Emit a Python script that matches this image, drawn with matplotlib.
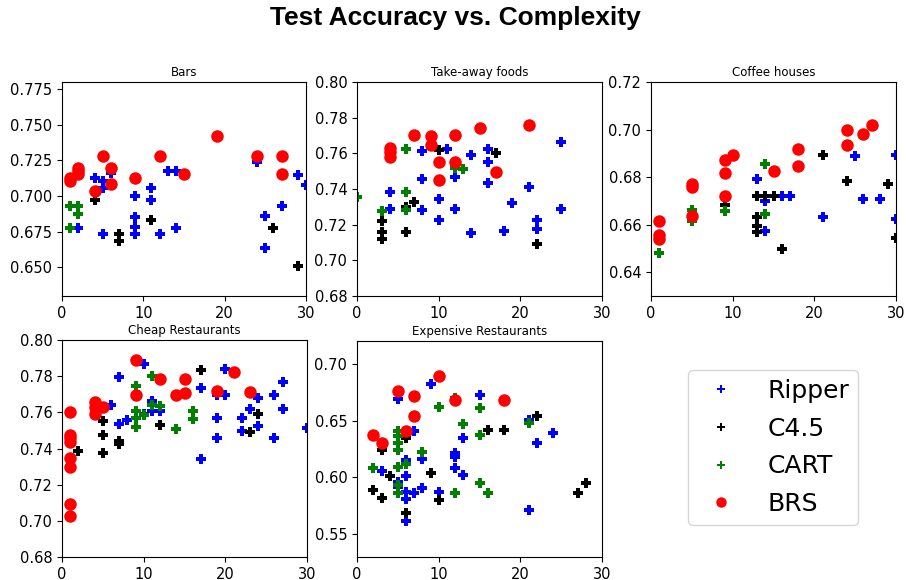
import matplotlib
matplotlib.use("Agg")
import matplotlib.pyplot as plt
from matplotlib.lines import Line2D

# ---------------- data: (complexity, accuracy) per method ----------------
bars_ripper_x = [2, 4, 5, 5, 5, 6, 9, 9, 9, 9, 11, 11, 12, 13, 14, 14, 24, 25, 25, 27, 29, 30]
bars_ripper_y = [0.6775, 0.7124, 0.7106, 0.7055, 0.6734, 0.7164, 0.700, 0.6852, 0.6787, 0.6734,
                 0.7059, 0.6973, 0.6738, 0.7176, 0.7176, 0.6775, 0.7238, 0.6862, 0.6636, 0.6931, 0.7148, 0.7078]
bars_c45_x = [4, 7, 7, 11, 26, 29]
bars_c45_y = [0.6973, 0.6738, 0.6683, 0.6834, 0.678, 0.6513]
bars_cart_x = [1, 1, 2, 2]
bars_cart_y = [0.6931, 0.6775, 0.6931, 0.6878]
bars_brs_x = [1, 1, 2, 2, 2, 4, 5, 6, 6, 9, 12, 15, 19, 24, 27, 27]
bars_brs_y = [0.7129, 0.7106, 0.7199, 0.7175, 0.7152, 0.7036, 0.728, 0.7199, 0.7087, 0.7129,
              0.728, 0.7157, 0.7424, 0.728, 0.728, 0.7157]

take_ripper_x = [4, 4, 8, 8, 8, 10, 10, 11, 12, 12, 14, 14, 16, 16, 16, 18, 19, 21, 22, 22, 25, 25]
take_ripper_y = [0.7385, 0.7286, 0.7614, 0.7454, 0.7282, 0.7344, 0.7226, 0.7623, 0.7468, 0.7288,
                 0.7591, 0.7154, 0.7623, 0.7554, 0.7432, 0.7164, 0.7323, 0.7413, 0.7226, 0.7175, 0.7663, 0.7288]
take_c45_x = [3, 3, 3, 6, 6, 7, 10, 17, 22]
take_c45_y = [0.7222, 0.716, 0.7119, 0.7297, 0.716, 0.7329, 0.7619, 0.760, 0.7094]
take_cart_x = [0, 3, 6, 6, 6, 12, 13]
take_cart_y = [0.7357, 0.7278, 0.7623, 0.7385, 0.7282, 0.7516, 0.751]
take_brs_x = [4, 4, 4, 7, 9, 9, 10, 10, 12, 12, 15, 17, 21]
take_brs_y = [0.7629, 0.7606, 0.7582, 0.7704, 0.770, 0.7644, 0.755, 0.745, 0.7704, 0.755,
              0.7741, 0.7498, 0.776]

coffee_ripper_x = [13, 14, 14, 16, 17, 21, 25, 26, 28, 30, 30]
coffee_ripper_y = [0.6794, 0.670, 0.6575, 0.6722, 0.6722, 0.6631, 0.6888, 0.6706, 0.6706, 0.6895, 0.6622]
coffee_c45_x = [9, 13, 13, 13, 13, 14, 15, 16, 21, 24, 29, 30]
coffee_c45_y = [0.6682, 0.6722, 0.6631, 0.6596, 0.6568, 0.6722, 0.6722, 0.6496, 0.6895, 0.6784, 0.6769, 0.6545]
coffee_cart_x = [1, 5, 5, 9, 14, 14]
coffee_cart_y = [0.648, 0.6661, 0.6617, 0.6658, 0.6857, 0.6643]
coffee_brs_x = [1, 1, 1, 5, 5, 5, 9, 9, 9, 10, 15, 18, 18, 24, 24, 26, 27]
coffee_brs_y = [0.6617, 0.6556, 0.654, 0.6769, 0.6759, 0.6638, 0.6871, 0.6819, 0.6722, 0.6895,
                0.6826, 0.6917, 0.6846, 0.6997, 0.6934, 0.698, 0.7018]

cheap_ripper_x = [6, 7, 7, 8, 10, 10, 11, 11, 12, 17, 17, 19, 19, 19, 20, 20, 22, 22, 23, 24, 24, 26, 26, 27, 27, 30]
cheap_ripper_y = [0.7642, 0.7798, 0.7533, 0.7556, 0.7866, 0.7593, 0.7664, 0.7608, 0.7608, 0.7735,
                  0.7343, 0.7696, 0.7571, 0.7459, 0.7841, 0.7696, 0.7571, 0.7496, 0.7621, 0.7677,
                  0.7524, 0.7696, 0.7459, 0.7767, 0.7617, 0.7515]
cheap_c45_x = [2, 5, 5, 5, 7, 7, 12, 17, 23, 24]
cheap_c45_y = [0.7388, 0.7552, 0.7477, 0.7375, 0.744, 0.7427, 0.7528, 0.7836, 0.749, 0.7589]
cheap_cart_x = [9, 9, 9, 9, 10, 11, 11, 12, 14, 16, 16]
cheap_cart_y = [0.7744, 0.7608, 0.7571, 0.752, 0.7584, 0.780, 0.764, 0.7636, 0.7509, 0.7608, 0.7561]
cheap_brs_x = [1, 1, 1, 1, 1, 1, 1, 1, 4, 4, 4, 5, 9, 9, 12, 14, 15, 15, 19, 21, 23]
cheap_brs_y = [0.7604, 0.7475, 0.7458, 0.7435, 0.7345, 0.7298, 0.7093, 0.7025, 0.7655, 0.763,
               0.7593, 0.7627, 0.7888, 0.7696, 0.7785, 0.7696, 0.7785, 0.7707, 0.772, 0.7823, 0.7714]

exp_ripper_x = [3, 5, 5, 5, 6, 6, 6, 6, 6, 7, 7, 8, 8, 8, 9, 10, 12, 12, 12, 13, 13, 15, 21, 21, 22, 24]
exp_ripper_y = [0.6058, 0.6692, 0.5964, 0.5914, 0.6149, 0.6016, 0.5876, 0.5811, 0.5617, 0.641,
                0.5861, 0.6228, 0.616, 0.5905, 0.6824, 0.5876, 0.6213, 0.6178, 0.6081, 0.6345,
                0.6022, 0.6727, 0.6507, 0.5714, 0.6307, 0.6389]
exp_c45_x = [2, 3, 3, 4, 6, 6, 9, 10, 16, 18, 22, 27, 28]
exp_c45_y = [0.589, 0.6237, 0.5817, 0.6013, 0.6345, 0.569, 0.6043, 0.5802, 0.6413, 0.6419,
             0.6536, 0.5867, 0.5955]
exp_cart_x = [2, 5, 5, 5, 5, 5, 5, 5, 6, 8, 10, 12, 12, 13, 15, 15, 15, 16, 21]
exp_cart_y = [0.6081, 0.6404, 0.6366, 0.6307, 0.6243, 0.6096, 0.5934, 0.5867, 0.6119, 0.6228,
              0.6618, 0.6703, 0.5867, 0.6472, 0.6615, 0.6375, 0.5955, 0.5867, 0.6477]
exp_brs_x = [2, 3, 5, 6, 7, 7, 10, 12, 18]
exp_brs_y = [0.6375, 0.6307, 0.6756, 0.641, 0.6712, 0.6536, 0.6888, 0.6683, 0.6683]

titles = ["Bars", "Take-away foods", "Coffee houses", "Cheap Restaurants", "Expensive Restaurants"]
methods = ["Ripper", "C4.5", "CART", "BRS"]
colors = ["b", "k", "g", "r"]
markers = ["P", "P", "P", "o"]
msizes = [7.5, 7.5, 7.5, 9]

panels = [
    [(bars_ripper_x, bars_ripper_y), (bars_c45_x, bars_c45_y), (bars_cart_x, bars_cart_y), (bars_brs_x, bars_brs_y)],
    [(take_ripper_x, take_ripper_y), (take_c45_x, take_c45_y), (take_cart_x, take_cart_y), (take_brs_x, take_brs_y)],
    [(coffee_ripper_x, coffee_ripper_y), (coffee_c45_x, coffee_c45_y), (coffee_cart_x, coffee_cart_y), (coffee_brs_x, coffee_brs_y)],
    [(cheap_ripper_x, cheap_ripper_y), (cheap_c45_x, cheap_c45_y), (cheap_cart_x, cheap_cart_y), (cheap_brs_x, cheap_brs_y)],
    [(exp_ripper_x, exp_ripper_y), (exp_c45_x, exp_c45_y), (exp_cart_x, exp_cart_y), (exp_brs_x, exp_brs_y)],
]
ylims = [(0.63, 0.78), (0.68, 0.80), (0.63, 0.72), (0.68, 0.80), (0.53, 0.72)]
yticks = [
    [0.650, 0.675, 0.700, 0.725, 0.750, 0.775],
    [0.68, 0.70, 0.72, 0.74, 0.76, 0.78, 0.80],
    [0.64, 0.66, 0.68, 0.70, 0.72],
    [0.68, 0.70, 0.72, 0.74, 0.76, 0.78, 0.80],
    [0.55, 0.60, 0.65, 0.70],
]
yfmt = ["%.3f", "%.2f", "%.2f", "%.2f", "%.2f"]

fig = plt.figure(figsize=(9.06, 5.80), dpi=100)
W, H = 906.0, 580.0
boxes = [  # left, top, right, bottom in pixels
    (62, 82, 306, 296), (357, 82, 602, 296), (651, 82, 896, 296),
    (62, 340, 307, 557), (357, 341, 602, 557),
]
for i, (l, t, r, b) in enumerate(boxes):
    ax = fig.add_axes([l / W, 1 - b / H, (r - l) / W, (b - t) / H])
    for j, (xs, ys) in enumerate(panels[i]):
        ax.plot(xs, ys, linestyle="none", marker=markers[j], color=colors[j],
                markersize=msizes[j], markeredgewidth=0, label=methods[j])
    ax.set_xlim(0, 30)
    ax.set_xticks([0, 10, 20, 30])
    ax.set_ylim(*ylims[i])
    ax.set_yticks(yticks[i])
    ax.set_yticklabels([yfmt[i] % v for v in yticks[i]])
    ax.tick_params(labelsize=10.5)
    ax.set_title(titles[i], fontsize=8.5, pad=4)

leg_ms = [6, 6, 6, 7.5]
handles = [Line2D([], [], linestyle="none", marker=markers[j], color=colors[j],
                  markersize=leg_ms[j], markeredgewidth=0) for j in range(4)]
fig.legend(handles, methods, loc="center", bbox_to_anchor=(773 / W, 1 - 447.5 / H),
           fontsize=18, handletextpad=0.85, labelspacing=0.55, borderpad=0.35,
           handlelength=2.0)

fig.suptitle("Test Accuracy vs. Complexity", fontsize=19, fontweight="bold",
             family=["Liberation Sans", "DejaVu Sans"], x=455 / W, y=1 - 6 / H, va="top")

fig.savefig("out.png", dpi=100)
